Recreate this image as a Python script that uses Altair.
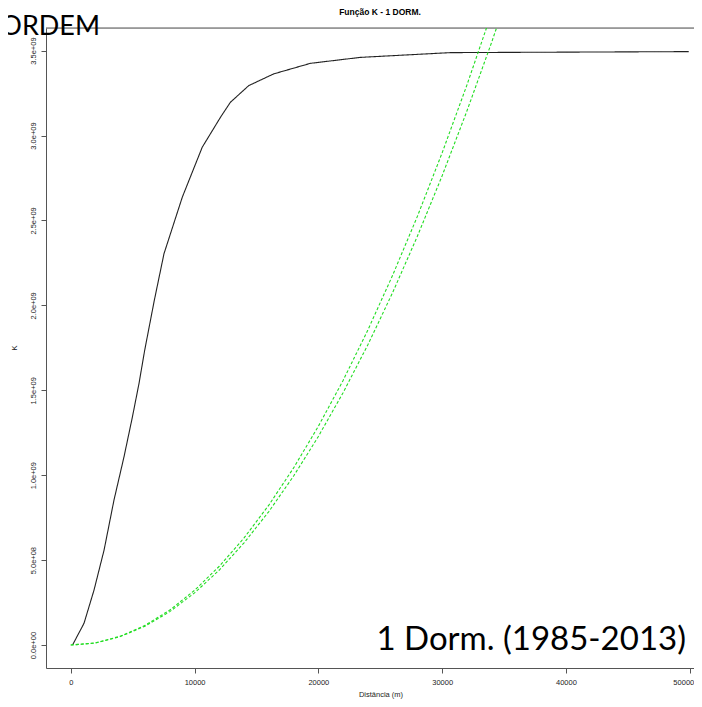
import altair as alt
import pandas as pd

# ---- texts ----
title_text = "Função K - 1 DORM."
x_title = "Distância (m)"
y_title = "K"
corner_text = "ORDEM"
panel_text = "1 Dorm. (1985-2013)"

# ---- axis ticks ----
x_ticks = [0, 10000, 20000, 30000, 40000, 50000]
y_ticks = [0.0, 0.5e9, 1.0e9, 1.5e9, 2.0e9, 2.5e9, 3.0e9, 3.5e9]
y_tick_labels = ["0.0e+00", "5.0e+08", "1.0e+09", "1.5e+09",
                 "2.0e+09", "2.5e+09", "3.0e+09", "3.5e+09"]

# ---- observed K function (black) ----
obs_dist = [140, 1070, 1880, 2690, 3490, 4300, 4980, 5510, 5970, 6750, 7530,
            9010, 10620, 12100, 12900, 14380, 16400, 19360, 23390, 30650, 49920]
obs_k = [0.0, 0.128e9, 0.324e9, 0.559e9, 0.853e9, 1.108e9, 1.343e9, 1.539e9,
         1.735e9, 2.03e9, 2.304e9, 2.637e9, 2.931e9, 3.108e9, 3.196e9, 3.294e9,
         3.363e9, 3.425e9, 3.460e9, 3.488e9, 3.494e9]

# ---- simulation envelope (green dashed) ----
env_dist = [0, 2000, 4000, 6000, 8000, 10000, 12000, 14000, 16000, 18000,
            20000, 22000, 24000, 26000, 28000, 30000, 32000, 34000, 36000]
env_upper = [0.0, 0.013e9, 0.052e9, 0.116e9, 0.206e9, 0.322e9, 0.464e9,
             0.631e9, 0.824e9, 1.043e9, 1.288e9, 1.558e9, 1.855e9, 2.177e9,
             2.524e9, 2.898e9, 3.297e9, 3.722e9, 4.17e9]
env_lower = [0.0, 0.012e9, 0.050e9, 0.111e9, 0.197e9, 0.307e9, 0.442e9,
             0.602e9, 0.786e9, 0.995e9, 1.228e9, 1.486e9, 1.768e9, 2.075e9,
             2.407e9, 2.763e9, 3.144e9, 3.549e9, 3.979e9]

rows = []
for d, k in zip(obs_dist, obs_k):
    rows.append({"series": "obs", "d": d, "k": k})
for d, k in zip(env_dist, env_upper):
    rows.append({"series": "hi", "d": d, "k": k})
for d, k in zip(env_dist, env_lower):
    rows.append({"series": "lo", "d": d, "k": k})
df = pd.DataFrame(rows)

W, H = 648, 640
FONT = "Liberation Sans"

label_expr = " : ".join(
    [f"datum.value == {v} ? '{l}'" for v, l in zip(y_ticks, y_tick_labels)]
) + " : ''"

x_scale = alt.Scale(domain=[-2000, 50345], nice=False, zero=False)
y_scale = alt.Scale(domain=[-0.135e9, 3.633e9], nice=False, zero=False)

lines = alt.Chart(df).mark_line(clip=True, strokeWidth=1.1).encode(
    x=alt.X("d:Q", scale=x_scale,
            axis=alt.Axis(values=x_ticks, title=None, grid=False, format="d",
                          domainColor="#555", tickColor="#555", tickSize=5,
                          labelFont=FONT, labelFontSize=7.5, labelColor="#222",
                          labelPadding=5, labelFlush=8, labelFlushOffset=4,
                          labelOverlap=False)),
    y=alt.Y("k:Q", scale=y_scale,
            axis=alt.Axis(values=y_ticks, title=None, grid=False,
                          labelExpr=label_expr, labelAngle=270,
                          labelAlign="center", labelBaseline="middle",
                          domainColor="#555", tickColor="#555", tickSize=5,
                          labelFont=FONT, labelFontSize=7.5, labelColor="#222",
                          labelPadding=8, labelFlush=False, labelOverlap=False)),
    color=alt.Color("series:N", legend=None,
                    scale=alt.Scale(domain=["obs", "hi", "lo"],
                                    range=["#222222", "#22dd22", "#22dd22"])),
    strokeDash=alt.StrokeDash("series:N", legend=None,
                              scale=alt.Scale(domain=["obs", "hi", "lo"],
                                              range=[[1, 0], [3, 2], [3, 2]])),
    detail="series:N",
    order="d:Q",
)

top_rule = alt.Chart(pd.DataFrame({"a": [0]})).mark_rule(
    color="#555", strokeWidth=1
).encode(x=alt.value(0), x2=alt.value(W), y=alt.value(0))


def label(text, x, y, size, align="center", baseline="middle", weight="normal",
          font=FONT, angle=0, color="#000"):
    return alt.Chart(pd.DataFrame({"t": [text]})).mark_text(
        align=align, baseline=baseline, fontSize=size, fontWeight=weight,
        font=font, angle=angle, color=color
    ).encode(text="t:N", x=alt.value(x), y=alt.value(y))


title_mark = label(title_text, 334, -16, 8.5, weight="bold")
xtitle_mark = label(x_title, 335, 667, 7.5, color="#222")
ytitle_mark = label(y_title, -31, 320, 7.5, angle=270, color="#222")
corner_mark = label(corner_text, 54, 7, 27, align="right", baseline="alphabetic",
                    font="Lato")
panel_mark = label(panel_text, 640, 622, 33, align="right",
                   baseline="alphabetic", font="Lato")

chart = alt.layer(
    top_rule, lines, title_mark, xtitle_mark, ytitle_mark, corner_mark, panel_mark
).properties(
    width=W, height=H,
    padding={"left": 38, "top": 20, "right": 0, "bottom": 31},
    autosize=alt.AutoSizeParams(type="none"),
).configure_view(stroke=None).configure(background="white")

chart.save("out.html", embed_options={"renderer": "svg", "actions": False})
